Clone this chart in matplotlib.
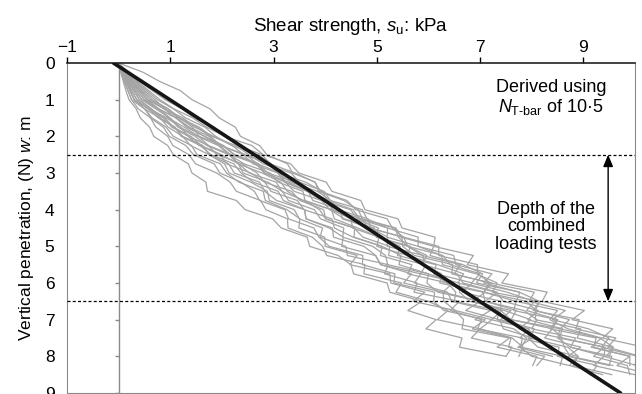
import matplotlib.pyplot as plt

plt.rcParams['font.family'] = ['Liberation Sans', 'DejaVu Sans']
plt.rcParams['mathtext.fontset'] = 'custom'
plt.rcParams['mathtext.rm'] = 'Liberation Sans'
plt.rcParams['mathtext.it'] = 'Liberation Sans:italic'

# T-bar penetration depth (m), sampled every 0.25 m
depth = [0.0, 0.25, 0.5, 0.75, 1.0, 1.25, 1.5, 1.75, 2.0, 2.25, 2.5, 2.75,
         3.0, 3.25, 3.5, 3.75, 4.0, 4.25, 4.5, 4.75, 5.0, 5.25, 5.5, 5.75,
         6.0, 6.25, 6.5, 6.75, 7.0, 7.25, 7.5, 7.75, 8.0, 8.25, 8.5]

# shear strength profiles (kPa), one list per T-bar test
test_01 = [0, 0.18, 0.40, 0.65, 0.90, 1.23, 1.46, 1.85, 2.05, 2.58, 2.80, 3.33, 3.49, 4.02, 4.13,
           4.69, 4.77, 5.41, 5.49, 6.13, 6.10, 6.87, 6.75, 7.55, 7.42, 8.30, 8.20, 9.02, 8.78,
           9.57, 9.37, 10.18, 10.10]
test_02 = [0, 0.16, 0.36, 0.58, 0.80, 1.07, 1.44, 1.70, 2.06, 2.30, 2.78, 2.93, 3.42, 3.80, 3.91,
           4.42, 4.59, 5.20, 5.30, 5.52, 6.20, 6.20, 6.95, 6.95, 7.20, 8.05, 7.95, 8.65, 8.40,
           9.10, 9.50, 9.35, 10.05, 10.0]
test_03 = [0, 0.15, 0.34, 0.54, 0.75, 1.06, 1.30, 1.67, 1.88, 2.19, 2.70, 2.96, 3.11, 3.62, 3.95,
           4.04, 4.54, 4.67, 5.35, 5.42, 5.60, 6.28, 6.42, 7.00, 6.83, 7.52, 8.05, 7.90, 8.50,
           8.35, 9.25, 9.20, 9.90, 9.65, 10.3]
test_04 = [0, 0.12, 0.27, 0.43, 0.60, 0.88, 1.25, 1.47, 1.84, 2.20, 2.42, 2.93, 3.08, 3.34, 3.85,
           4.11, 4.25, 4.83, 4.88, 5.49, 5.50, 5.73, 6.47, 6.45, 7.23, 7.07, 7.70, 7.65, 8.50,
           8.40, 8.60, 9.40, 9.20, 9.85, 9.90]
test_05 = [0, 0.11, 0.25, 0.40, 0.55, 0.88, 1.11, 1.37, 1.75, 1.97, 2.46, 2.69, 3.13, 3.22, 3.70,
           4.08, 4.12, 4.58, 5.03, 4.99, 5.60, 5.97, 5.88, 6.55, 6.67, 7.33, 7.10, 7.85, 8.10,
           8.00, 8.85, 8.75, 9.40, 9.20, 10.0]
test_06 = [0, 0.14, 0.32, 0.50, 0.70, 0.90, 1.18, 1.43, 1.56, 2.01, 2.25, 2.71, 2.83, 3.29, 3.67,
           3.76, 4.29, 4.33, 4.88, 5.21, 5.20, 5.90, 5.90, 6.15, 6.85, 6.65, 7.40, 7.40, 7.60,
           8.40, 8.25, 8.95, 8.70, 9.50]
test_07 = [0, 0.47, 0.79, 1.19, 1.42, 1.77, 1.95, 2.26, 2.36, 2.73, 2.87, 3.27, 3.37, 3.81, 3.87,
           4.36, 4.64, 4.72, 5.37, 5.47, 6.10, 6.03, 6.67, 7.05, 6.93, 7.77, 7.70, 8.50, 8.35,
           8.70, 9.35, 9.15, 9.90, 9.90]
test_08 = [0, 0.10, 0.23, 0.36, 0.50, 0.78, 0.96, 1.27, 1.55, 1.74, 2.18, 2.31, 2.78, 3.14, 3.27,
           3.56, 4.12, 4.18, 4.63, 5.04, 5.00, 5.60, 5.95, 5.85, 6.60, 6.60, 6.80, 7.60, 7.40,
           8.05, 7.95, 8.70, 8.90, 8.80, 9.55]
test_09 = [0, 0.08, 0.18, 0.29, 0.40, 0.61, 0.93, 1.20, 1.35, 1.74, 1.90, 2.39, 2.68, 2.82, 3.35,
           3.51, 3.97, 4.01, 4.57, 4.56, 5.10, 5.47, 5.43, 6.00, 6.47, 6.28, 7.00, 7.43, 7.22,
           7.95, 7.93, 8.12, 8.90, 8.73, 9.37]
test_10 = [0, 0.09, 0.20, 0.32, 0.45, 0.76, 1.00, 1.19, 1.53, 1.93, 2.14, 2.43, 2.93, 3.09, 3.57,
           3.61, 4.12, 4.50, 4.53, 5.04, 5.45, 5.40, 6.15, 6.10, 6.35, 7.10, 6.85, 7.47, 7.98,
           7.75, 8.57, 8.63, 8.75, 9.57]
test_11 = [0, 0.07, 0.16, 0.25, 0.35, 0.57, 0.87, 1.03, 1.35, 1.56, 1.97, 2.09, 2.56, 2.83, 2.95,
           3.46, 3.59, 4.13, 4.18, 4.54, 5.10, 5.07, 5.68, 5.60, 6.37, 6.53, 6.50, 7.37, 7.33,
           7.95, 7.77, 8.53, 8.50, 9.27, 9.13]
test_12 = [0, 0.06, 0.14, 0.22, 0.30, 0.58, 0.77, 1.09, 1.24, 1.63, 1.75, 2.13, 2.24, 2.73, 2.83,
           3.06, 3.60, 3.63, 4.14, 4.16, 4.75, 4.98, 5.07, 5.85, 5.73, 6.37, 6.45, 7.20, 6.90,
           7.65, 7.90, 7.80, 8.60, 8.55]
test_13 = [0, 0.06, 0.14, 0.22, 0.30, 0.50, 0.80, 0.96, 1.24, 1.39, 1.75, 2.05, 2.14, 2.56, 2.88,
           2.92, 3.40, 3.50, 3.95, 3.90, 4.40, 4.43, 5.22, 5.15, 5.78, 5.72, 6.60, 6.42, 7.03,
           6.95, 7.82, 7.78, 8.00, 8.72]
test_14 = [0, 0.05, 0.11, 0.18, 0.25, 0.50, 0.65, 0.92, 1.06, 1.41, 1.52, 1.97, 2.09, 2.33, 2.80,
           2.84, 3.26, 3.51, 3.49, 3.99, 4.00, 4.62, 4.48, 5.25, 5.27, 5.93, 5.70, 6.52, 6.68,
           6.65, 7.57, 7.33, 8.10, 8.02]
test_15 = [0, 0.04, 0.09, 0.14, 0.20, 0.34, 0.42, 0.60, 0.68, 0.95, 1.06, 1.35, 1.42, 1.69, 1.72,
           2.28, 2.45, 2.98, 3.15, 3.65, 3.70, 4.25, 4.50, 4.55, 5.20, 5.25, 5.87, 5.60, 6.15,
           5.95, 6.65, 6.60, 7.50]
test_16 = [0, 0.05, 0.11, 0.18, 0.25, 0.38, 0.62, 0.72, 0.95, 1.05, 1.36, 1.49, 1.90, 2.16, 2.28,
           2.75, 2.85, 3.27, 3.28, 3.75, 3.95, 4.03, 4.77, 4.75, 5.48, 5.37, 6.00, 6.38, 6.17,
           7.00, 6.83, 7.62, 7.50]
test_17 = [0, 0.13, 0.29, 0.47, 0.65, 0.96, 1.15, 1.52, 1.77, 1.98, 2.41, 2.60, 3.08, 3.21, 3.65,
           4.02, 4.16, 4.71, 4.84, 5.52, 5.60, 5.88, 6.62, 6.50, 7.18, 7.07, 7.90, 8.08, 8.07,
           8.95, 8.88, 9.57, 9.45]
test_18 = [0, 0.11, 0.25, 0.40, 0.55, 0.77, 1.11, 1.32, 1.66, 1.95, 2.17, 2.66, 2.82, 3.23, 3.40,
           3.93, 4.09, 4.37, 4.95, 5.00, 5.65, 5.59, 6.18, 6.68, 6.57, 7.31, 7.45, 8.13, 7.92,
           8.60, 8.53, 9.42, 9.40, 10.03]
test_19 = [0, 0.09, 0.20, 0.32, 0.45, 0.72, 0.99, 1.15, 1.48, 1.71, 2.13, 2.32, 2.53, 3.05, 3.16,
           3.59, 3.89, 4.01, 4.56, 4.73, 5.25, 5.23, 5.92, 6.25, 6.22, 7.05, 7.10, 7.70, 7.60,
           8.55, 8.50, 8.75, 9.55, 9.50]
test_20 = [0, 0.07, 0.16, 0.25, 0.35, 0.57, 0.90, 1.06, 1.40, 1.60, 1.99, 2.32, 2.41, 2.89, 3.17,
           3.29, 3.79, 3.91, 4.36, 4.34, 4.92, 5.17, 5.21, 6.00, 5.97, 6.18, 7.00, 6.72, 7.38,
           7.45, 8.02, 7.73, 8.40]
test_21 = [0, 0.12, 0.27, 0.43, 0.60, 0.96, 1.19, 1.56, 1.80, 2.27, 2.52, 2.80, 3.34, 3.50, 3.98,
           4.10, 4.72, 4.81, 5.21, 5.80, 5.80, 6.49, 6.53, 7.23, 7.07, 7.76, 8.15, 8.03, 8.92,
           8.85, 9.63, 9.47, 10.1]
test_22 = [0, 0.08, 0.18, 0.29, 0.40, 0.64, 0.81, 1.09, 1.21, 1.58, 1.79, 2.23, 2.37, 2.61, 3.09,
           3.19, 3.60, 3.63, 4.08, 4.35, 4.32, 4.97, 5.08, 5.67, 5.52, 6.28, 6.30, 6.52, 7.23,
           7.00, 7.62, 7.83, 7.75]
test_23 = [0, 0.10, 0.23, 0.36, 0.50, 0.77, 1.13, 1.33, 1.67, 2.03, 2.23, 2.70, 2.89, 3.43, 3.65,
           3.92, 4.49, 4.63, 5.21, 5.20, 5.80, 6.26, 6.27, 6.93, 7.33, 7.24, 8.15, 8.07, 8.73,
           8.55, 9.32, 9.58, 9.50]
test_24 = [0, 0.06, 0.14, 0.22, 0.30, 0.51, 0.62, 0.87, 0.98, 1.30, 1.45, 1.85, 1.96, 2.37, 2.63,
           2.73, 3.22, 3.29, 3.78, 3.88, 4.08, 4.73, 4.72, 5.35, 5.33, 6.12, 6.10, 6.30, 7.10,
           6.85, 7.60, 7.55, 8.25, 8.10]

tests = [test_01, test_02, test_03, test_04, test_05, test_06, test_07, test_08,
         test_09, test_10, test_11, test_12, test_13, test_14, test_15, test_16,
         test_17, test_18, test_19, test_20, test_21, test_22, test_23, test_24]

# su profile derived with N_T-bar = 10.5
derived_su = [-0.1, 9.72]
derived_depth = [0.0, 9.0]

# depth range of the combined loading tests
test_zone = [2.5, 6.5]

x_ticks = [-1, 1, 3, 5, 7, 9]
y_ticks = [0, 1, 2, 3, 4, 5, 6, 7, 8, 9]

grey = '#a4a4a4'
axis_grey = '#8a8a8a'

fig = plt.figure(figsize=(6.42, 3.94), dpi=100)
ax = fig.add_axes([67 / 642, 1 / 394, 568 / 642, 330 / 394])

for su in tests:
    ax.plot(su, depth[:len(su)], color=grey, lw=0.9, zorder=2)

ax.plot(derived_su, derived_depth, color='#161616', lw=2.6,
        solid_capstyle='round', zorder=4)

for z in test_zone:
    ax.axhline(z, color='black', lw=0.9, ls=(0, (2.4, 1.8)), zorder=3)

ax.annotate('', xy=(9.48, test_zone[0]), xytext=(9.48, test_zone[1]),
            arrowprops=dict(arrowstyle='<|-|>,head_length=0.6,head_width=0.25',
                            color='black', lw=1, mutation_scale=12,
                            shrinkA=0, shrinkB=0))
ax.text(8.28, 4.47, 'Depth of the\ncombined\nloading tests', ha='center', va='center',
        fontsize=13, linespacing=1.02)
ax.text(8.37, 0.95, 'Derived using\n$N_{\\mathrm{T\u2010bar}}$ of 10\u00b75', ha='center',
        va='center', fontsize=13, linespacing=1.1)

# vertical axis through su = 0 with inward-facing ticks
ax.vlines(0, 0, 9, color=axis_grey, lw=1, zorder=1)
ax.hlines(y_ticks, -0.08, 0, color=axis_grey, lw=1, zorder=1)

ax.set_xlim(-1, 10)
ax.set_ylim(9, 0)
ax.xaxis.tick_top()
ax.xaxis.set_label_position('top')
ax.set_xticks(x_ticks)
ax.set_yticks(y_ticks)
ax.tick_params(axis='x', direction='out', length=4, width=1, pad=2, labelsize=12.5)
ax.tick_params(axis='y', length=0, pad=9, labelsize=12.5)

for side in ['left', 'right', 'bottom']:
    ax.spines[side].set_color(axis_grey)
ax.spines['top'].set_color('#222222')
ax.spines['top'].set_linewidth(1.2)

ax.set_xlabel('Shear strength, $s_\\mathrm{u}$: kPa', fontsize=13.5, labelpad=6)
ax.set_ylabel('Vertical penetration, (N) $w$: m', fontsize=12.5, labelpad=6)

fig.savefig('out.png', dpi=100)
